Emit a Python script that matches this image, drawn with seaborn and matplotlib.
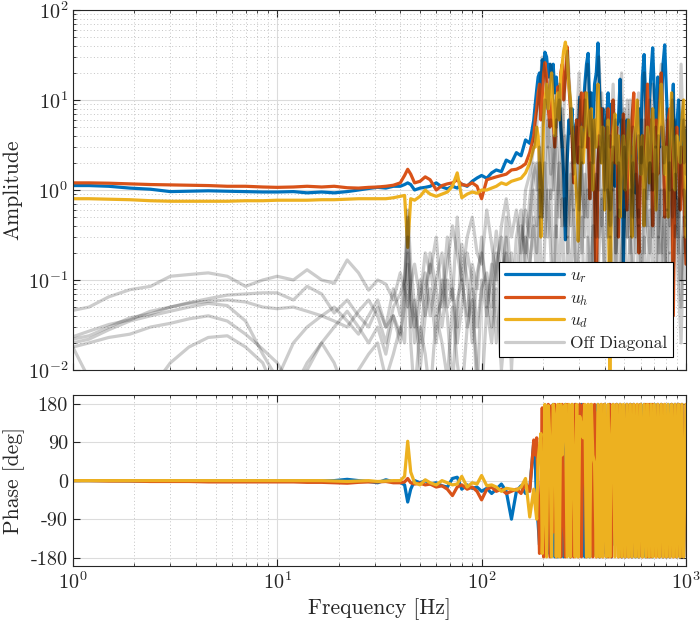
import numpy as np
import matplotlib
matplotlib.use("Agg")
import matplotlib.pyplot as plt
import seaborn as sns

# frequency grids [Hz]
freq_low = [1, 1.2, 1.5, 1.9, 2.4, 3, 3.7, 4.6, 5.7, 7, 8.5, 10, 12, 14, 16.5, 19, 22, 25, 28]
freq_mid = [31, 34, 37, 40, 42, 43.5, 45, 47, 50, 53, 56, 60, 64, 68, 72, 76, 80, 85, 90, 95,
            100, 106, 112, 118, 125, 132, 140, 148, 156, 164, 172, 180]
# high band used by the off diagonal terms
freq_off_high = [186, 192, 198, 204, 211, 218, 225, 232, 240, 248, 256, 264, 273, 282, 291, 300, 310, 320,
                 330, 341, 352, 363, 375, 387, 400, 413, 426, 440, 454, 469, 484, 500, 516, 533, 550, 568,
                 586, 605, 625, 645, 666, 688, 710, 733, 757, 781, 806, 832, 859, 887, 916, 946, 976, 1000]
# high band used by the diagonal terms
freq_diag_high = [183, 186, 189, 192, 195, 198, 201, 204, 208, 212, 216, 220, 224, 228, 232, 236, 240, 244, 248, 252,
                  257, 262, 267, 272, 277, 282, 287, 292, 297, 302, 308, 314, 320, 326, 332, 338, 344, 350, 357, 364,
                  371, 378, 385, 392, 400, 408, 416, 424, 432, 440, 449, 458, 467, 476, 485, 494, 504, 514, 524, 534,
                  544, 555, 566, 577, 588, 600, 612, 624, 636, 648, 661, 674, 687, 700, 714, 728, 742, 757, 772, 787,
                  802, 818, 834, 850, 867, 884, 901, 919, 937, 955, 974, 1000]

# diagonal amplitudes
amp_ur = ([1.12, 1.12, 1.1, 1.05, 1.02, 0.96, 0.97, 0.98, 0.97, 0.96, 0.95, 0.95, 0.96, 0.93, 0.95, 0.93, 0.96, 1.0, 1.04]
          + [1.07, 1.05, 1.1, 1.1, 1.15, 1.2, 1.15, 1.0, 1.05, 1.07, 1.1, 1.2, 1.08, 1.03, 1.1, 1.05, 1.16, 1.1, 1.25, 1.36,
             1.45, 1.35, 1.55, 1.67, 1.6, 2.15, 2.0, 2.6, 2.4, 3.6, 3.3, 6]
          + [9, 13, 18, 20, 14, 28, 22, 34, 30, 18, 25, 14, 25, 12, 18, 9, 12, 5, 3, 1.5,
             0.28, 2, 6, 4.3, 8, 1.5, 5, 6, 3, 10.8, 3, 8, 15, 25, 33, 8, 12, 5, 15, 20,
             43, 12, 3.9, 8, 1.5, 6, 12, 4, 9, 3, 1.1, 5, 6, 17, 3, 0.15, 2, 6, 2.5, 4.6,
             1.2, 3, 0.93, 5, 8, 3, 18, 32, 8, 2.6, 9, 20, 38, 12, 5, 18, 3, 8, 25, 41,
             12, 4, 1.5, 6, 15, 0.8, 5, 10, 3, 6, 1.08, 4.6])
amp_uh = ([1.2, 1.2, 1.19, 1.17, 1.15, 1.14, 1.13, 1.12, 1.1, 1.1, 1.08, 1.07, 1.08, 1.1, 1.08, 1.1, 1.06, 1.05, 1.07]
          + [1.08, 1.1, 1.13, 1.2, 1.45, 1.7, 1.5, 1.2, 1.25, 1.4, 1.3, 1.0, 1.12, 1.17, 1.2, 1.3, 1.15, 1.12, 1.2, 1.1,
             0.8, 1.3, 1.35, 1.4, 1.45, 1.5, 1.67, 1.7, 1.8, 1.95, 2.6, 4]
          + [6, 8, 12, 15, 6, 10, 20, 26, 18, 8, 5, 12, 6, 3, 8, 14, 8, 20, 25, 10,
             18, 39, 15, 8, 4, 1.2, 3, 6, 2, 6, 12, 5, 12, 3, 6, 0.8, 3, 5, 1, 0.05,
             2, 5, 8, 3, 1, 4, 8, 0.5, 3, 10, 2, 5, 0.3, 2, 3, 7, 2, 0.6, 3, 2.5,
             6, 12, 3, 1, 0.2, 2, 4, 0.7, 5, 15, 3, 6, 0.4, 3, 6, 1.5, 8, 20, 4, 0.5,
             3, 6, 8, 2, 0.04, 1.5, 5, 2, 0.6, 3, 1, 0.15])
amp_ud = ([0.8, 0.8, 0.79, 0.78, 0.76, 0.75, 0.75, 0.75, 0.75, 0.76, 0.76, 0.77, 0.77, 0.77, 0.78, 0.78, 0.79, 0.8, 0.8]
          + [0.8, 0.8, 0.82, 0.85, 0.87, 0.23, 0.8, 0.77, 0.85, 1.0, 0.9, 0.85, 0.9, 0.95, 1.1, 1.55, 0.82, 0.9, 0.95, 0.92,
             1.0, 1.0, 1.05, 1.1, 1.2, 1.15, 1.25, 1.3, 1.35, 1.55, 2.0, 3]
          + [3, 5, 4, 2, 0.3, 1, 6, 10, 15, 8, 12, 20, 8, 4, 10, 12, 6, 18, 25, 35,
             44, 30, 15, 10, 5, 3, 1.5, 0.8, 0.27, 1, 5, 2, 4, 12, 6, 4, 8, 1, 6, 3,
             15, 6, 2, 5, 0.6, 3, 6, 0.005, 1.5, 4, 7, 2, 4, 0.5, 2, 4, 1, 3, 6, 2,
             0.3, 3, 5, 10, 3, 1.5, 4, 0.4, 2, 5, 1.2, 4, 8, 3, 0.6, 3, 6, 15, 4, 1.5,
             3, 0.5, 4, 12, 3, 1, 4, 3, 2, 6, 10, 0.3])

# off diagonal amplitudes
off_1 = ([0.046, 0.05, 0.065, 0.078, 0.085, 0.11, 0.115, 0.12, 0.11, 0.085, 0.1, 0.11, 0.1, 0.13, 0.1, 0.092, 0.167, 0.12, 0.077]
         + [0.1, 0.09, 0.06, 0.12, 0.08, 0.05, 0.09, 0.15, 0.06, 0.2, 0.12, 0.3, 0.05, 0.15, 0.4, 0.2, 0.1, 0.3, 0.5, 0.2,
            0.15, 0.6, 0.25, 0.1, 0.4, 0.8, 0.3, 0.6, 0.2, 1.0, 1.5, 3]
         + [5, 12, 30, 20, 8, 25, 15, 5, 10, 3, 15, 35, 8, 2, 5, 20, 3, 8, 25, 6,
            2, 10, 30, 5, 1, 8, 3, 15, 2, 5, 20, 1, 3, 10, 0.5, 4, 12, 2, 20, 4,
            1, 15, 3, 8, 25, 2, 6, 1, 10, 3, 0.5, 25, 2, 5])
off_2 = ([0.0234, 0.027, 0.032, 0.036, 0.045, 0.05, 0.056, 0.062, 0.068, 0.07, 0.072, 0.072, 0.06, 0.085, 0.07, 0.043, 0.06, 0.04, 0.03]
         + [0.05, 0.03, 0.04, 0.02, 0.08, 0.5, 0.06, 0.03, 0.1, 0.04, 0.2, 0.08, 0.03, 0.1, 0.06, 0.5, 0.1, 0.04, 0.15, 0.08,
            0.3, 0.05, 0.12, 0.35, 0.1, 0.2, 0.05, 0.3, 0.6, 0.15, 0.5, 1.5]
         + [2, 0.5, 5, 10, 3, 6, 1, 4, 15, 2, 0.4, 3, 8, 1.5, 5, 0.6, 2, 10, 4, 0.8,
            6, 3, 1, 12, 2, 0.3, 4, 1, 6, 0.5, 3, 8, 1, 0.2, 5, 1.5, 0.4, 6, 2, 0.8,
            10, 1, 3, 0.3, 5, 1.5, 8, 0.4, 2, 6, 0.2, 3, 1, 0.5])
off_3 = ([0.022, 0.024, 0.03, 0.038, 0.042, 0.05, 0.055, 0.058, 0.06, 0.057, 0.05, 0.048, 0.05, 0.045, 0.04, 0.035, 0.03, 0.045, 0.06]
         + [0.04, 0.02, 0.05, 0.07, 0.1, 0.3, 0.08, 0.02, 0.06, 0.12, 0.04, 0.1, 0.2, 0.05, 0.08, 0.03, 0.25, 0.1, 0.02, 0.12,
            0.2, 0.08, 0.03, 0.15, 0.3, 0.06, 0.15, 0.1, 0.4, 0.2, 0.8, 2]
         + [1, 3, 0.5, 2, 6, 1.5, 4, 0.3, 2, 8, 3, 1, 0.4, 5, 2, 10, 1, 0.5, 3, 12,
            1.5, 0.3, 4, 2, 8, 1, 0.6, 3, 0.2, 2, 6, 0.5, 10, 2, 1, 0.3, 4, 1.5, 6, 0.4,
            2, 1, 5, 0.2, 3, 1, 0.6, 4, 12, 1, 0.3, 2, 6, 1.5])
off_4 = ([0.02, 0.022, 0.028, 0.035, 0.04, 0.045, 0.05, 0.055, 0.052, 0.035, 0.015, 0.008, 0.02, 0.03, 0.04, 0.05, 0.035, 0.025, 0.04]
         + [0.06, 0.03, 0.08, 0.04, 0.1, 0.6, 0.15, 0.05, 0.02, 0.08, 0.15, 0.04, 0.06, 0.3, 0.07, 0.02, 0.05, 0.2, 0.1, 0.03,
            0.08, 0.12, 0.05, 0.2, 0.04, 0.5, 0.1, 0.03, 0.2, 0.6, 0.3, 1]
         + [0.4, 2, 1, 0.3, 3, 0.8, 2, 6, 0.5, 1.5, 4, 0.3, 2, 0.6, 1, 3, 0.2, 1.5, 0.5, 2,
            0.1, 1, 3, 0.4, 2, 5, 0.3, 1, 0.15, 2, 0.5, 3, 0.3, 1, 0.08, 1.5, 0.5, 3, 0.2, 1,
            2, 0.3, 0.8, 4, 0.2, 1, 0.1, 2, 0.5, 1.5, 0.3, 0.05, 1, 0.4])
off_5 = ([0.018, 0.02, 0.023, 0.025, 0.03, 0.033, 0.037, 0.04, 0.035, 0.025, 0.017, 0.012, 0.006, 0.012, 0.02, 0.03, 0.045, 0.03, 0.02]
         + [0.03, 0.015, 0.04, 0.025, 0.05, 0.2, 0.03, 0.06, 0.01, 0.04, 0.08, 0.02, 0.1, 0.04, 0.006, 0.06, 0.1, 0.03, 0.08, 0.005,
            0.1, 0.04, 0.15, 0.02, 0.08, 0.3, 0.01, 0.1, 0.05, 0.3, 0.15, 0.5]
         + [0.2, 1, 0.5, 2, 0.3, 1, 0.1, 0.6, 2, 0.4, 0.8, 0.2, 1.5, 0.5, 0.1, 0.8, 2, 0.3, 1, 0.05,
            0.6, 1.5, 0.3, 0.8, 0.1, 1, 0.4, 2, 0.2, 0.6, 0.05, 1, 0.3, 0.8, 2, 0.2, 0.6, 0.1, 1, 0.4,
            0.2, 1.5, 0.1, 0.5, 1, 0.05, 0.6, 0.2, 1, 0.3, 0.8, 0.1, 0.5, 0.2])
off_6 = ([0.018, 0.008, 0.005, 0.005, 0.006, 0.012, 0.018, 0.023, 0.024, 0.018, 0.012, 0.005, 0.005, 0.01, 0.02, 0.012, 0.005, 0.01, 0.015]
         + [0.02, 0.008, 0.015, 0.03, 0.02, 0.15, 0.02, 0.005, 0.03, 0.015, 0.005, 0.04, 0.02, 0.008, 0.05, 0.012, 0.005, 0.03, 0.06, 0.01,
            0.005, 0.05, 0.02, 0.08, 0.01, 0.04, 0.2, 0.02, 0.1, 0.05, 0.15, 0.4]
         + [0.1, 0.5, 0.05, 0.3, 1, 0.2, 0.05, 0.4, 0.1, 0.8, 0.03, 0.3, 0.1, 0.6, 0.05, 0.2, 0.5, 0.02, 0.3, 0.1,
            0.4, 0.05, 0.2, 1, 0.1, 0.03, 0.3, 0.08, 0.5, 0.02, 0.2, 0.6, 0.05, 0.3, 0.1, 0.02, 0.4, 0.1, 0.3, 0.05,
            0.6, 0.1, 0.02, 0.3, 0.15, 0.5, 0.03, 0.2, 0.08, 0.4, 0.1, 0.02, 0.3, 0.1])

# diagonal phases [deg]
phase_ur = ([0, 0, 0, -0.5, -1, -1, -1, -1, -1, -1, -1, -1, -1, -1, -1, 0, 3, 0, -2]
            + [-5, 2, -3, -4, -10, -50, -20, 0, -5, 0, -8, -5, -12, -15, 5, 8, -20, -10, -18, -15,
               -25, -18, -30, -20, -8, -25, -90, -25, -12, -30, -20, 90]
            + [40, -60, -100, -150, -60, -40, -90, 175, -175, 120, -170, -100, 178, -178, 160, -178, -120, 175, 60, -178,
               178, -150, 100, -178, 170, -60, 178, -175, 140, -170, 178, -20, -178, 175, 30, -178, 176, -175, 120, -90,
               178, -178, 150, -170, 178, -178, 60, 178, -178, 175, -150, 178, -100, 178, -178, 170, -178, 178, -90, 178,
               -178, 178, -178, 120, -178, 178, -160, 178, -178, 90, -178, 178, -178, 178, -120, 178, -178, 178, -178, 150,
               -178, 178, -178, 178, -60, 178, -178, 178, -178, 178, -178, 60])
phase_uh = ([0, 0, -1, -1, -2, -2, -2, -3, -3, -3, -3, -3, -3, -4, -4, -5, -6, -4, -3]
            + [-3, -2, -5, -5, -3, 5, -5, -8, -6, -10, -8, -15, -12, -20, -35, -15, -10, -20, -15, -25,
               -45, -20, -15, -25, -20, -30, -25, -20, -30, -5, -25, 95]
            + [60, 100, -40, -170, -120, 170, -178, -100, 60, 178, -178, 175, -120, 178, -178, 30, 178, -178, 178, -60,
               -178, 178, 140, -178, 178, -178, 178, -30, -178, 178, -178, 178, 100, -178, 178, -150, 178, -178, 178, -178,
               160, -178, 178, -178, 178, 0, -178, 178, -178, 178, -60, 178, -178, 178, -178, 120, -178, 178, -178, 178,
               -178, 178, -100, 178, -178, 178, -178, 60, 178, -178, 178, -178, 178, -30, -178, 178, -178, 178, -178, 178,
               -178, 140, -178, 178, -178, 178, -178, 178, -178, 178, -178, 178])
phase_ud = ([0, 0, 0, 0, 0, 0, 0, 0, 0, 0, 0, 0, 0, 0, 0, -1, -2, -1, 0]
            + [-2, -1, 0, 0, 10, 92, 20, -5, -10, 2, -5, -10, 0, -5, -10, -8, 10, -15, -5, -8,
               12, -12, -10, -15, -25, -18, -20, -22, -15, 5, -85, -20]
            + [-60, -90, 50, 80, 110, -170, -60, 178, -178, 175, 90, -178, 178, 150, -178, 178, -178, 178, 60, 170,
               178, -178, 178, -178, 178, 40, -178, 178, -178, 150, 130, 100, 178, -178, 178, -178, 178, 60, 40, -178,
               178, -178, 178, -178, 178, -178, 178, -178, 100, 178, -178, 178, -178, 178, -178, 178, -178, 178, -178, 178,
               -178, 178, -178, 178, -178, 178, -178, 178, -178, 178, -178, 178, -178, 178, -178, 178, -178, 178, -178, 178,
               -178, 178, -178, 178, -178, 178, -178, 178, -178, 178, -178, 178])

freqs_diag = np.array(freq_low + freq_mid + freq_diag_high)
freqs_off = np.array(freq_low + freq_mid + freq_off_high)

sns.set_style("ticks")
plt.rcParams['font.family'] = ['cmr10', 'DejaVu Serif']
plt.rcParams['mathtext.fontset'] = 'cm'
plt.rcParams['axes.formatter.use_mathtext'] = True
plt.rcParams['axes.unicode_minus'] = False

c_blue = '#0072BD'
c_red = '#D95319'
c_yellow = '#EDB120'
lw = 2.3

fig = plt.figure(figsize=(7, 6.25), dpi=100)
ax1 = fig.add_axes([0.104, 0.408, 0.876, 0.576])
ax2 = fig.add_axes([0.104, 0.094, 0.876, 0.274])

# Amplitude
sns.lineplot(x=freqs_diag, y=amp_ur, ax=ax1, color=c_blue, lw=lw, label='$u_r$', sort=False)
sns.lineplot(x=freqs_diag, y=amp_uh, ax=ax1, color=c_red, lw=lw, label='$u_h$', sort=False)
sns.lineplot(x=freqs_diag, y=amp_ud, ax=ax1, color=c_yellow, lw=lw, label='$u_d$', sort=False)
for i, off in enumerate([off_1, off_2, off_3, off_4, off_5, off_6]):
    sns.lineplot(x=freqs_off, y=off, ax=ax1, color='black', alpha=0.2, lw=lw,
                 label='Off Diagonal' if i == 0 else None, sort=False)

# Phase
sns.lineplot(x=freqs_diag, y=phase_ur, ax=ax2, color=c_blue, lw=lw, sort=False)
sns.lineplot(x=freqs_diag, y=phase_uh, ax=ax2, color=c_red, lw=lw, sort=False)
sns.lineplot(x=freqs_diag, y=phase_ud, ax=ax2, color=c_yellow, lw=lw, sort=False)

for ax in (ax1, ax2):
    ax.set_xscale('log')
    ax.set_xlim(1, 1000)
    ax.grid(True, which='major', color='#dcdcdc', lw=0.8, ls='-')
    ax.grid(True, which='minor', color='#c4c4c4', lw=0.7, ls=(0, (1, 2.5)))
    ax.tick_params(which='both', direction='in', top=True, right=True, labelsize=14.5)
    ax.tick_params(which='major', length=5)
    ax.tick_params(which='minor', length=2.5)
    for s in ax.spines.values():
        s.set_linewidth(0.8)
    ax.set_axisbelow(True)

ax1.set_yscale('log')
ax1.set_ylim(1e-2, 1e2)
ax1.set_ylabel('Amplitude', fontsize=15.5)
ax1.tick_params(labelbottom=False)
ax1.set_xlabel('')

ax2.set_ylim(-200, 200)
ax2.set_yticks([-180, -90, 0, 90, 180])
ax2.set_yticklabels(['-180', '-90', '0', '90', '180'])
ax2.set_ylabel('Phase [deg]', fontsize=15.5)
ax2.set_xlabel('Frequency [Hz]', fontsize=15.5)

leg = ax1.legend(loc='lower right', fontsize=12.5, handlelength=3.4, labelspacing=0.3,
                 handletextpad=0.3, borderpad=0.35, fancybox=False, framealpha=1,
                 edgecolor='black', borderaxespad=0.75)
leg.get_frame().set_linewidth(0.8)
for line in leg.get_lines():
    line.set_linewidth(lw)

fig.align_ylabels([ax1, ax2])
fig.savefig('out.png', dpi=100)
